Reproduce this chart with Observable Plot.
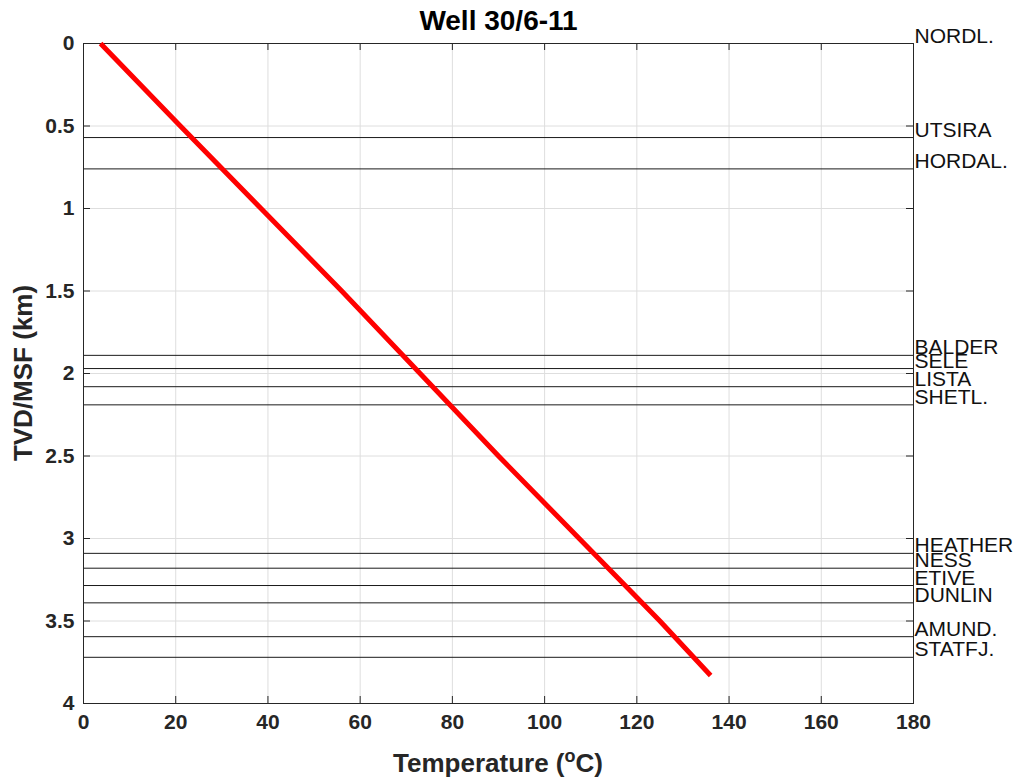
<!DOCTYPE html>
<html>
<head>
<meta charset="utf-8">
<script src="https://cdn.jsdelivr.net/npm/d3@7"></script>
<script src="https://cdn.jsdelivr.net/npm/@observablehq/plot@0.6"></script>
<style>
  body { margin: 0; background: #fff; }
  #chart svg { display: block; }
</style>
</head>
<body>
<div id="chart"></div>
<script>
// Temperature–depth profile for well 30/6-11 with formation tops
const wellName = "Well 30/6-11";

// Temperature profile (°C) against true vertical depth below sea floor (km)
const profileDepth = [0, 0.5, 1, 1.5, 2, 2.5, 3, 3.5, 3.83];
const profileTemp = [3.7, 21, 38.5, 56, 73, 90, 107.5, 125, 136];

// Formation tops
const horizonNames = ["NORDL.", "UTSIRA", "HORDAL.", "BALDER", "SELE", "LISTA", "SHETL.",
  "HEATHER", "NESS", "ETIVE", "DUNLIN", "AMUND.", "STATFJ."];
const horizonDepths = [0, 0.57, 0.76, 1.89, 1.97, 2.08, 2.19, 3.09, 3.18, 3.285, 3.39, 3.595, 3.72];

// Axis ticks
const xTicks = [0, 20, 40, 60, 80, 100, 120, 140, 160, 180];
const yTicks = [0, 0.5, 1, 1.5, 2, 2.5, 3, 3.5, 4];
const yTickLabels = ["0", "0.5", "1", "1.5", "2", "2.5", "3", "3.5", "4"];

const profile = profileDepth.map((z, i) => ({depth: z, temp: profileTemp[i]}));
const horizons = horizonNames.map((name, i) => ({name, depth: horizonDepths[i]}));

const W = 1017, H = 778;
const mL = 83, mR = 104, mT = 43, mB = 75;
const innerW = W - mL - mR, innerH = H - mT - mB;
const tickLen = 7;
const font = "'Liberation Sans', Arial, Helvetica, sans-serif";

const chart = Plot.plot({
  width: W,
  height: H,
  marginLeft: mL,
  marginRight: mR,
  marginTop: mT,
  marginBottom: mB,
  style: {fontFamily: font, background: "#fff", color: "#262626"},
  x: {domain: [0, 180]},
  y: {domain: [0, 4], reverse: true},
  marks: [
    // grid
    Plot.gridX(xTicks, {stroke: "#dedede", strokeOpacity: 1}),
    Plot.gridY(yTicks, {stroke: "#dedede", strokeOpacity: 1}),
    // formation tops
    Plot.ruleY(horizons, {y: "depth", stroke: "#1a1a1a", strokeWidth: 1}),
    // box
    Plot.frame({stroke: "#262626", strokeWidth: 1}),
    // inward tick marks on all four sides
    Plot.tickX(xTicks, {x: d => d, stroke: "#262626", insetTop: innerH - tickLen}),
    Plot.tickX(xTicks, {x: d => d, stroke: "#262626", insetBottom: innerH - tickLen}),
    Plot.tickY(yTicks, {y: d => d, stroke: "#262626", insetRight: innerW - tickLen}),
    Plot.tickY(yTicks, {y: d => d, stroke: "#262626", insetLeft: innerW - tickLen}),
    // tick labels
    Plot.axisX(xTicks, {anchor: "bottom", tickSize: 0, tickPadding: 11, fontSize: 21, fontWeight: "bold", fill: "#262626", label: null}),
    Plot.axisY(yTicks, {anchor: "left", tickSize: 0, tickPadding: 9, fontSize: 21, fontWeight: "bold", fill: "#262626", label: null,
      tickFormat: d => yTickLabels[yTicks.indexOf(d)]}),
    // temperature profile
    Plot.line(profile, {x: "temp", y: "depth", stroke: "#ff0000", strokeWidth: 5, strokeLinecap: "butt"}),
    // formation names to the right of the box
    Plot.text(horizons, {x: () => 180, y: "depth", text: "name", textAnchor: "start", lineAnchor: "bottom",
      dx: 1, dy: -1, fontSize: 21, fill: "#111"}),
    // title
    Plot.text([wellName], {frameAnchor: "top", text: d => d, dy: -22, lineAnchor: "middle",
      fontSize: 28, fontWeight: "bold", fill: "#000"})
  ]
});

const svg = d3.select(chart);

// x-axis label with a superscript "o"
const xl = svg.append("text")
  .attr("x", mL + innerW / 2)
  .attr("y", 772)
  .attr("text-anchor", "middle")
  .attr("font-family", font)
  .attr("font-size", 26)
  .attr("font-weight", "bold")
  .attr("fill", "#262626");
xl.append("tspan").text("Temperature (");
xl.append("tspan").attr("dy", -10).attr("font-size", 18).text("o");
xl.append("tspan").attr("dy", 10).text("C)");

// y-axis label
svg.append("text")
  .attr("transform", `translate(32,${mT + innerH / 2}) rotate(-90)`)
  .attr("text-anchor", "middle")
  .attr("font-family", font)
  .attr("font-size", 26)
  .attr("font-weight", "bold")
  .attr("fill", "#262626")
  .text("TVD/MSF (km)");

document.getElementById("chart").append(chart);
</script>
</body>
</html>
